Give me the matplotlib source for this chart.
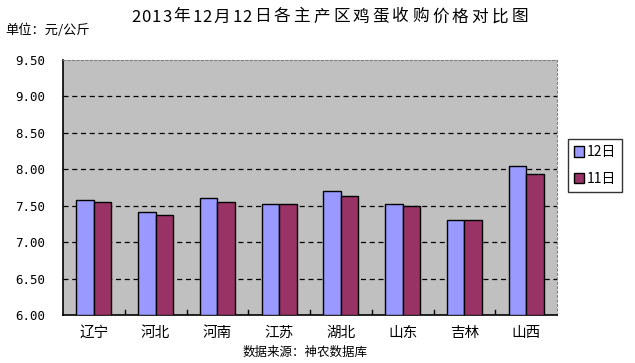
import numpy as np
import matplotlib
matplotlib.use("Agg")
import matplotlib.pyplot as plt

plt.rcParams['font.family'] = ['Noto Sans CJK SC', 'DejaVu Sans']

# data
regions = ["辽宁", "河北", "河南", "江苏", "湖北", "山东", "吉林", "山西"]
price_12 = [7.58, 7.41, 7.60, 7.53, 7.70, 7.52, 7.30, 8.04]
price_11 = [7.55, 7.37, 7.55, 7.53, 7.64, 7.50, 7.30, 7.94]
series_labels = ["12日", "11日"]
yticks = [6.00, 6.50, 7.00, 7.50, 8.00, 8.50, 9.00, 9.50]
title = "2013年12月12日各主产区鸡蛋收购价格对比图"

W, H = 635, 363
fig = plt.figure(figsize=(W / 100, H / 100), dpi=100)
ax = fig.add_axes([63 / W, (H - 315) / H, (557 - 63) / W, (315 - 60) / H])
ax.set_facecolor("#c0c0c0")

x = np.arange(len(regions))
bw = 0.285
ax.bar(x - bw / 2, np.array(price_12) - 6, bw, bottom=6, color="#9999ff",
       edgecolor="black", linewidth=1, label=series_labels[0], zorder=3)
ax.bar(x + bw / 2, np.array(price_11) - 6, bw, bottom=6, color="#993366",
       edgecolor="black", linewidth=1, label=series_labels[1], zorder=3)

ax.set_xlim(-0.5, len(regions) - 0.5)
ax.set_ylim(6.0, 9.5)
ax.set_yticks(yticks)
ax.set_yticklabels([f"{v:.2f}" for v in yticks], fontsize=9,
                   family=["DejaVu Sans Mono", "DejaVu Sans"])
ax.tick_params(axis="y", length=0, pad=13)

# category labels, ticks between groups
ax.set_xticks(x)
ax.set_xticklabels(regions, fontsize=10.5)
ax.tick_params(axis="x", length=0, pad=8)
for b in np.arange(0.5, len(regions) - 0.5, 1.0):
    ax.plot([b, b], [6.0, 6.07], color="black", lw=1, zorder=4)

for v in yticks[1:-1]:
    ax.axhline(v, color="black", lw=0.9, ls=(0, (4, 3)), zorder=1)

ax.spines["left"].set_color("black")
ax.spines["bottom"].set_color("black")
ax.spines["left"].set_linewidth(1.2)
ax.spines["bottom"].set_linewidth(1.2)
for s in ["top", "right"]:
    ax.spines[s].set_color("#808080")
    ax.spines[s].set_linestyle((0, (2, 2)))
    ax.spines[s].set_linewidth(0.8)

leg = ax.legend(loc="upper left", bbox_to_anchor=(568 / W, (H - 139) / H),
                bbox_transform=fig.transFigure, fontsize=10, frameon=True,
                fancybox=False, edgecolor="black", handlelength=0.7,
                handleheight=0.8, handletextpad=0.2, borderpad=0.45,
                labelspacing=0.9, borderaxespad=0)
leg.get_frame().set_linewidth(1)

# letter-spaced title, drawn one glyph at a time
px = 131
for ch in title:
    step = 10.2 if ch.isdigit() else 19.8
    fig.text((px + step / 2) / W, 1 - 17 / H, ch, ha="center", va="center",
             fontsize=12)
    px += step

fig.text(5 / W, 1 - 30 / H, "单位：元/公斤", ha="left", va="center",
         fontsize=9.5)
fig.text(305 / W, 1 - 352 / H, "数据来源：神农数据库", ha="center",
         va="center", fontsize=9)

fig.savefig("out.png", dpi=100)
